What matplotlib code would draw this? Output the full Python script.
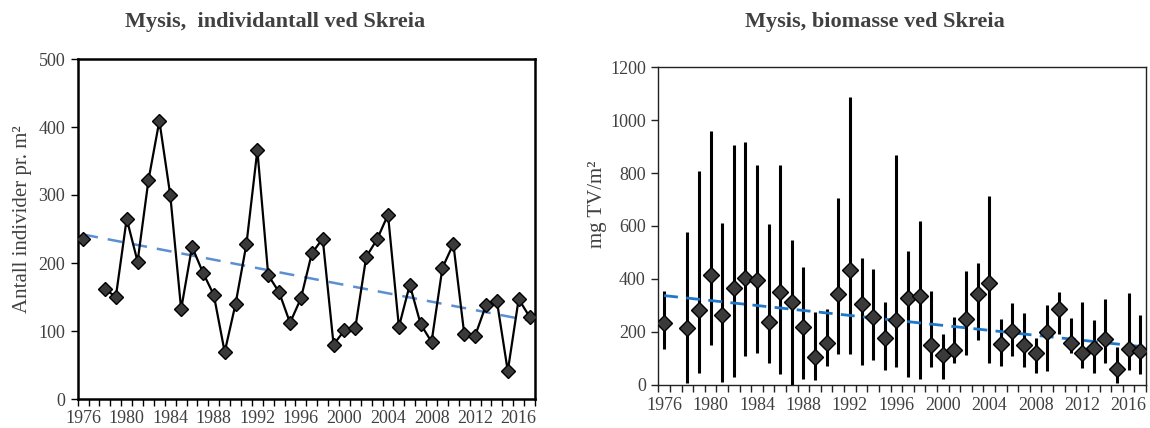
import numpy as np
import matplotlib
matplotlib.use("Agg")
import matplotlib.pyplot as plt
from matplotlib.ticker import FixedLocator, NullFormatter

years = list(range(1976, 2018))

# Individual counts per m2 (1977 not sampled)
individer = [236, np.nan, 162, 150, 265, 202, 322, 409, 300, 132,
             224, 186, 153, 69, 140, 228, 366, 182, 157, 112,
             148, 214, 236, 80, 101, 105, 209, 235, 271, 106,
             168, 110, 84, 193, 228, 96, 93, 138, 144, 41,
             147, 121]

# Biomass (mg dry weight per m2) with min / max range
biomasse = [235, np.nan, 216, 283, 415, 263, 366, 404, 396, 238,
            350, 313, 217, 105, 159, 342, 435, 304, 256, 178,
            245, 328, 336, 149, 111, 131, 247, 343, 385, 153,
            204, 149, 121, 201, 286, 159, 119, 140, 174, 59,
            134, 129]
bio_low = [135, np.nan, 5, 45, 150, 11, 28, 108, 121, 83,
           39, -20, 20, 18, 71, 115, 115, 75, 93, 56,
           66, 28, 22, 66, 22, 83, 112, 169, 83, 71,
           108, 66, 43, 53, 192, 121, 64, 45, 83, 5,
           56, 41]
bio_high = [356, np.nan, 576, 808, 960, 612, 905, 919, 832, 608,
            832, 548, 445, 276, 286, 707, 1089, 478, 438, 314,
            869, 504, 618, 356, 193, 256, 431, 459, 714, 248,
            310, 272, 177, 301, 352, 253, 314, 245, 324, 141,
            346, 264]

tick_years = list(range(1976, 2017, 4))

serif = ["Liberation Serif", "DejaVu Serif"]
plt.rcParams["font.family"] = serif
text_col = "#404040"

fig = plt.figure(figsize=(11.5, 4.28), dpi=100)
W, H = 1150, 428
ax1 = fig.add_axes([77.7 / W, 1 - 399 / H, (535 - 77.7) / W, (399 - 59) / H])
ax2 = fig.add_axes([658.3 / W, 1 - 384.7 / H, (1146 - 658.3) / W, (384.7 - 67.3) / H])

x = np.arange(len(years))


def trend(vals):
    v = np.asarray(vals, dtype=float)
    m = ~np.isnan(v)
    k, b = np.polyfit(x[m], v[m], 1)
    return k * x + b


def style_axis(ax, ymax, ystep, spine_w, spine_col, xpad):
    ax.set_xlim(-0.5, len(years) - 0.5)
    ax.set_ylim(0, ymax)
    ax.set_yticks(np.arange(0, ymax + 1, ystep))
    ax.xaxis.set_major_locator(FixedLocator([years.index(t) for t in tick_years]))
    ax.set_xticklabels([str(t) for t in tick_years])
    ax.xaxis.set_minor_locator(FixedLocator(np.arange(-0.5, len(years), 1.0)))
    ax.xaxis.set_minor_formatter(NullFormatter())
    ax.tick_params(axis="x", which="major", length=0, pad=xpad, labelsize=13, labelcolor=text_col)
    ax.tick_params(axis="x", which="minor", length=5, width=1, direction="out", color=spine_col)
    ax.tick_params(axis="y", length=5, width=1, direction="out", color=spine_col,
                   labelsize=13, labelcolor=text_col, pad=4)
    for s in ax.spines.values():
        s.set_linewidth(spine_w)
        s.set_color(spine_col)


# Left: individual counts
ax1.plot(x, individer, color="black", lw=1.6, marker="D", ms=7.5,
         mfc="#3a3a3a", mec="black", mew=1.0, zorder=3)
ax1.plot(x, trend(individer), color="#5B8FD0", lw=1.8, dashes=(6, 4), zorder=2)
style_axis(ax1, 500, 100, 1.8, "black", 8)
ax1.set_ylabel("Antall individer pr. m²", fontsize=15, color=text_col)
ax1.yaxis.set_label_coords(-0.1, 0.53)

# Right: biomass with ranges
bio = np.asarray(biomasse, dtype=float)
lo = np.asarray(bio_low, dtype=float)
hi = np.asarray(bio_high, dtype=float)
ax2.vlines(x, lo, hi, color="black", lw=2.2, zorder=2)
ax2.plot(x, trend(biomasse), color="#1F77C8", lw=2.0, dashes=(5, 3), zorder=3)
ax2.plot(x, bio, ls="none", marker="D", ms=8, mfc="#3a3a3a", mec="black",
         mew=1.0, zorder=4)
style_axis(ax2, 1200, 200, 1.0, "#222222", 9)
ax2.set_ylabel("mg TV/m²", fontsize=15, color=text_col)
ax2.yaxis.set_label_coords(-0.105, 0.57)

fig.text(275 / W, 1 - 22 / H, "Mysis,  individantall ved Skreia", fontsize=16,
         fontweight="bold", color=text_col, ha="center", va="center")
fig.text(875 / W, 1 - 22 / H, "Mysis, biomasse ved Skreia", fontsize=16,
         fontweight="bold", color=text_col, ha="center", va="center")

fig.savefig("out.png", dpi=100)
